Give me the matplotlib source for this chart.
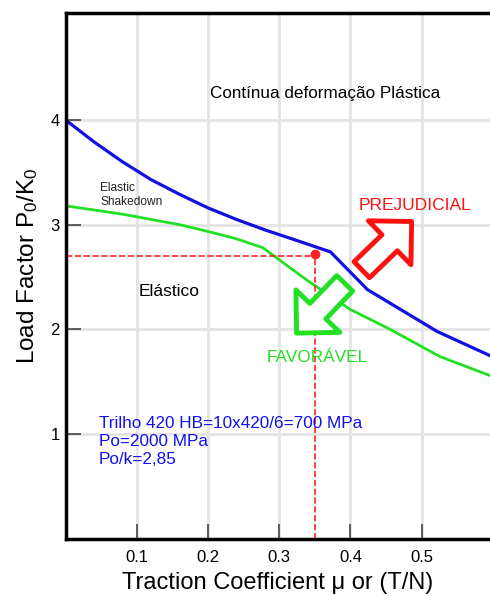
import numpy as np
import matplotlib
matplotlib.use('Agg')
from matplotlib import pyplot as plt

plt.rcParams['font.family'] = ['Liberation Sans', 'DejaVu Sans']
plt.rcParams['mathtext.fontset'] = 'custom'
plt.rcParams['mathtext.rm'] = 'Liberation Sans'
plt.rcParams['mathtext.it'] = 'Liberation Sans'

# curves
blue_x = [0.0, 0.04, 0.08, 0.12, 0.16, 0.20, 0.24, 0.28, 0.32, 0.372, 0.424, 0.522, 0.596]
blue_y = [4.00, 3.79, 3.60, 3.43, 3.29, 3.16, 3.05, 2.95, 2.86, 2.74, 2.38, 1.98, 1.75]

green_x = [0.0, 0.04, 0.08, 0.12, 0.16, 0.20, 0.24, 0.277, 0.339, 0.40, 0.456, 0.526, 0.596]
green_y = [3.18, 3.14, 3.10, 3.05, 3.00, 2.935, 2.865, 2.78, 2.47, 2.19, 2.00, 1.74, 1.56]

mu_point = 0.35
p_point = 2.7

x_ticks = [0.1, 0.2, 0.3, 0.4, 0.5]
y_ticks = [1, 2, 3, 4]

fig = plt.figure(figsize=(4.9, 5.96), dpi=100)
ax = fig.add_axes([65.5 / 490, 57 / 596, 1 - 65.5 / 490, (539 - 13) / 596])

ax.set_xlim(0, 0.596)
ax.set_ylim(0, 5.02)
ax.set_xticks(x_ticks)
ax.set_yticks(y_ticks)
ax.set_xticklabels(['0.1', '0.2', '0.3', '0.4', '0.5'])
ax.grid(True, color='#e4e4e4', linewidth=2)
ax.set_axisbelow(True)
ax.tick_params(direction='in', length=11, width=1.2, color='#444444', labelsize=12)
ax.tick_params(axis='x', pad=8)
ax.tick_params(axis='y', pad=4)
for side in ['left', 'bottom', 'top']:
    ax.spines[side].set_linewidth(2.5)
ax.spines['right'].set_visible(False)

ax.plot(blue_x, blue_y, color='#1010e0', linewidth=2.3)
ax.plot(green_x, green_y, color='#22e022', linewidth=2.0)

# operating point
ax.plot([0, mu_point], [p_point, p_point], '--', color='#ff2020', linewidth=1.2)
ax.plot([mu_point, mu_point], [0, p_point], '--', color='#ff2020', linewidth=1.2)
ax.plot(mu_point, p_point + 0.02, 'o', color='#ff2020', markersize=6)

# hollow arrows
style = 'simple,head_width=2.2,head_length=1.1,tail_width=0.8'
ax.annotate('', xy=(0.486, 3.03), xytext=(0.416, 2.57),
            arrowprops=dict(arrowstyle=style, fc='white', ec='#ff1010', lw=3.5,
                            mutation_scale=20, shrinkA=0, shrinkB=0))
ax.annotate('', xy=(0.3245, 1.965), xytext=(0.392, 2.44),
            arrowprops=dict(arrowstyle=style, fc='white', ec='#22e022', lw=3.5,
                            mutation_scale=20, shrinkA=0, shrinkB=0))

ax.text(0.365, 4.25, 'Contínua deformação Plástica', fontsize=12.3, ha='center', va='center')
ax.text(0.049, 3.285, 'Elastic\nShakedown', fontsize=8.6, ha='left', va='center',
        linespacing=1.25, color='#222222')
ax.text(0.103, 2.36, 'Elástico', fontsize=12.5, ha='left', va='center')
ax.text(0.411, 3.18, 'PREJUDICIAL', fontsize=12.5, color='#ff1010', ha='left', va='center')
ax.text(0.283, 1.73, 'FAVORÁVEL', fontsize=12.4, color='#22e022', ha='left', va='center')
ax.text(0.047, 0.935, 'Trilho 420 HB=10x420/6=700 MPa\nPo=2000 MPa\nPo/k=2,85',
        fontsize=12.3, color='#1010ee', ha='left', va='center', linespacing=1.25)

ax.set_xlabel('Traction Coefficient μ or (T/N)', fontsize=17, labelpad=5)
ax.set_ylabel('Load Factor P$_0$/K$_0$', fontsize=17.5)
ax.yaxis.set_label_coords(-0.06, 0.52)

fig.savefig('out.png', dpi=100)
